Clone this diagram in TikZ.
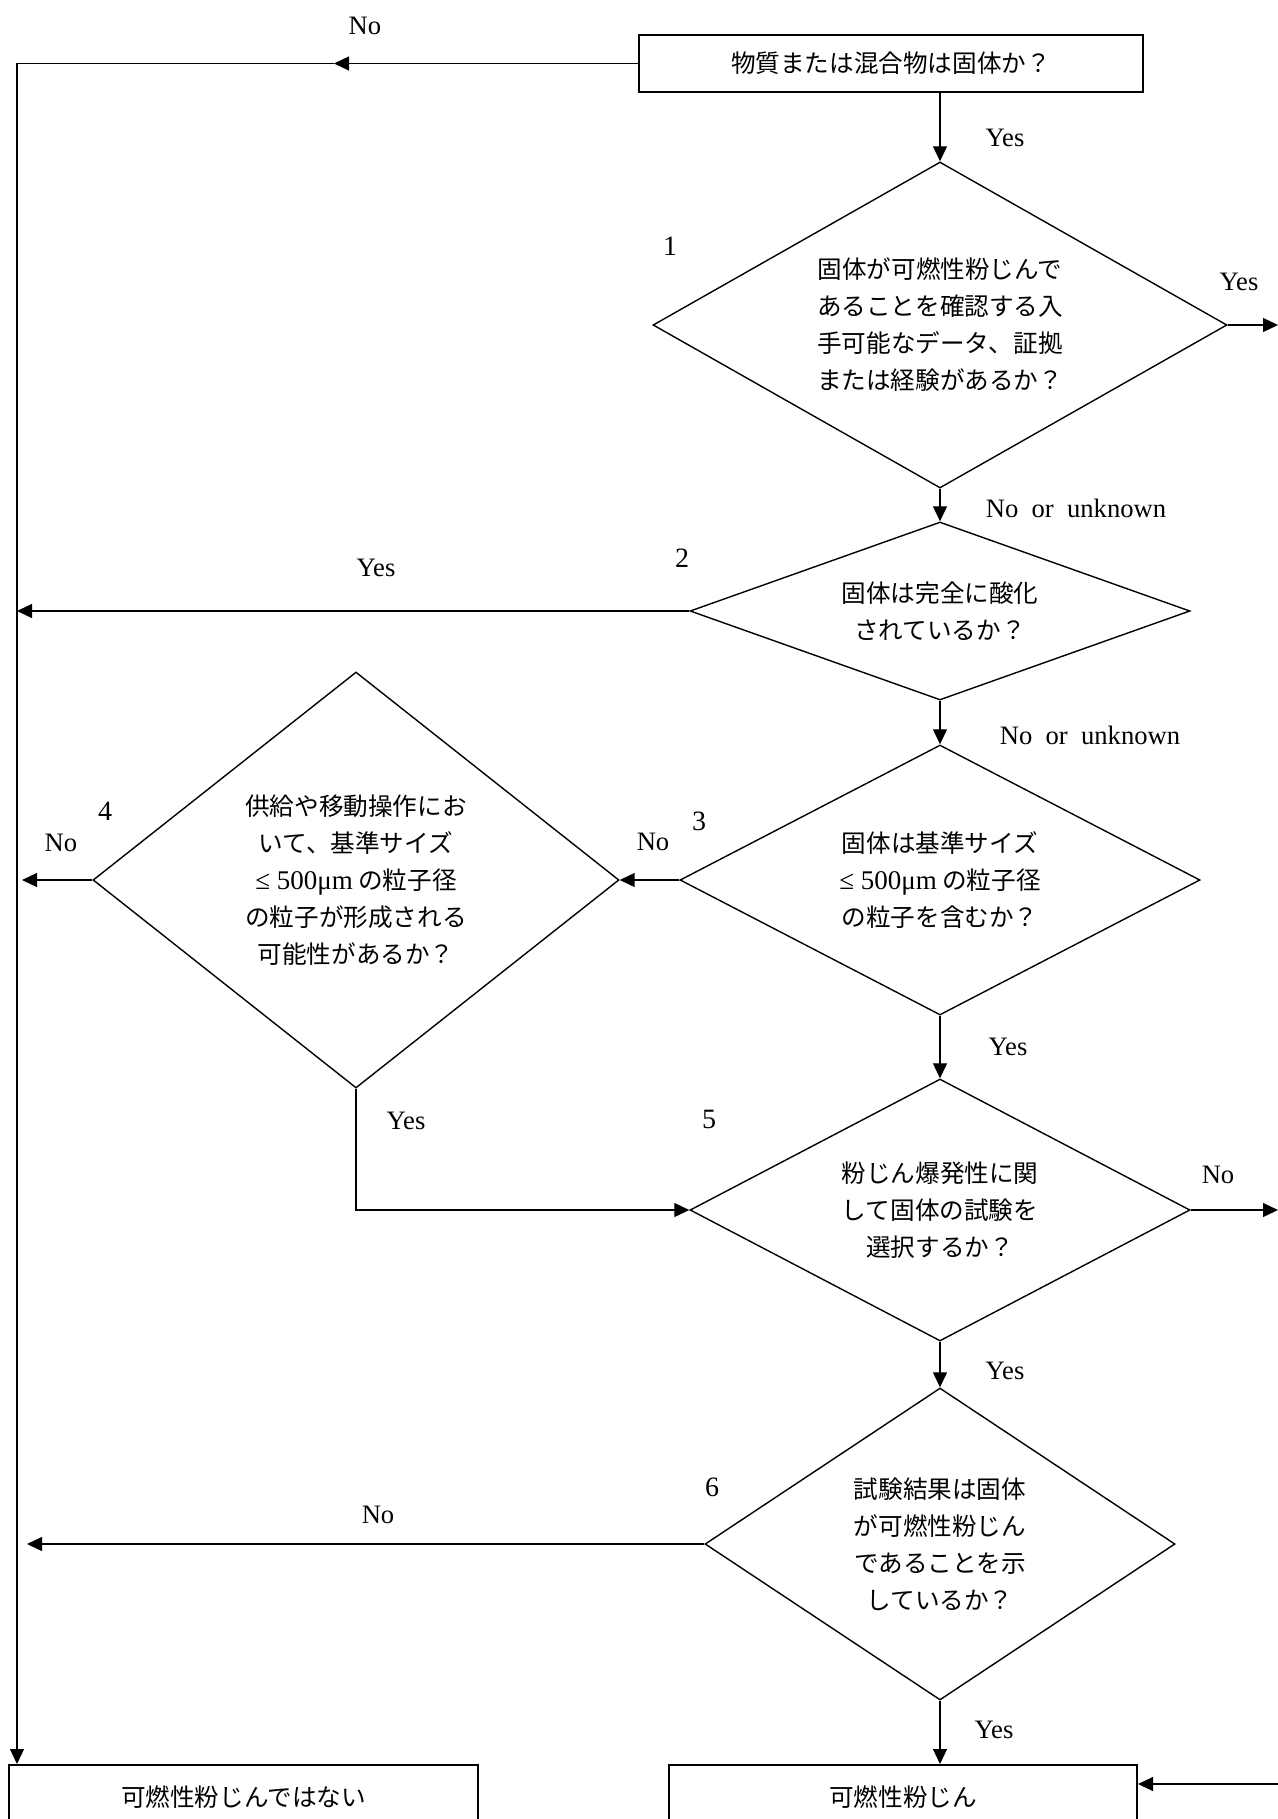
\documentclass[tikz,border=0pt]{standalone}
\usepackage{fontspec}
\setmainfont{Liberation Serif}
\newfontfamily\jp{Noto Sans CJK JP}
\usepackage{tikz}
\usetikzlibrary{arrows.meta,shapes.geometric}
\newcommand{\lsize}{\rmfamily\fontsize{13.5}{18.5}\selectfont ≤\ 500μm}
\tikzset{
  jt/.style={font=\jp\fontsize{12.3}{18.5}\selectfont, align=center},
  qbox/.style={jt, draw, line width=1pt, inner sep=0pt},
  qd/.style={jt, draw, diamond, line width=0.7pt, inner sep=0pt},
  lbl/.style={font=\fontsize{13.3}{16}\selectfont, inner sep=0pt},
  num/.style={font=\fontsize{14}{16}\selectfont, inner sep=0pt},
  ar/.style={-{Triangle[length=7.5pt,width=7pt]}, line width=0.6pt},
}

\begin{document}
\begin{tikzpicture}[x=0.5pt, y=-0.5pt]
  \useasboundingbox (0,0) rectangle (1278,1819);
  \clip (0,0) rectangle (1278,1819);

  \node[qbox, minimum width=252pt, minimum height=28.5pt] (start) at (891,63.5) {物質または混合物は固体か？};
  \node[qd, minimum width=287pt, minimum height=163pt, aspect=1.76] (d1) at (940,325)
    {固体が可燃性粉じんで\\あることを確認する入\\手可能なデータ、証拠\\または経験があるか？};
  \node[qd, minimum width=250pt, minimum height=89pt, aspect=2.81] (d2) at (940,611)
    {固体は完全に酸化\\されているか？};
  \node[qd, minimum width=260pt, minimum height=135pt, aspect=1.93] (d3) at (940,880)
    {固体は基準サイズ\\{\lsize} の粒子径\\の粒子を含むか？};
  \node[qd, minimum width=263pt, minimum height=208pt, aspect=1.26] (d4) at (356,880)
    {供給や移動操作にお\\いて、基準サイズ\\{\lsize} の粒子径\\の粒子が形成される\\可能性があるか？};
  \node[qd, minimum width=250pt, minimum height=131pt, aspect=1.91] (d5) at (940,1210)
    {粉じん爆発性に関\\して固体の試験を\\選択するか？};
  \node[qd, minimum width=235pt, minimum height=156pt, aspect=1.51] (d6) at (940,1544)
    {試験結果は固体\\が可燃性粉じん\\であることを示\\しているか？};
  \node[qbox, minimum width=234.5pt, minimum height=32pt] (notcd) at (243.5,1797) {可燃性粉じんではない};
  \node[qbox, minimum width=234pt, minimum height=32pt] (iscd) at (903,1797) {可燃性粉じん};

  \coordinate (nomid) at (334,63.5);
  \coordinate (ltop) at (17,63.5);
  \coordinate (r1) at (1278,325);
  \coordinate (l2) at (17,611);
  \coordinate (l4) at (22,880);
  \coordinate (r5) at (1278,1210);
  \coordinate (l6) at (27,1544);
  \coordinate (r7) at (1278,1784);

  \draw[ar] (start.west) -- (nomid);
  \draw[ar] (nomid) -- (ltop) -- (ltop |- notcd.north);
  \draw[ar] (start.south -| d1.north) -- (d1.north);
  \draw[ar] (d1.east) -- (r1);
  \draw[ar] (d1.south) -- (d2.north);
  \draw[ar] (d2.west) -- (l2);
  \draw[ar] (d2.south) -- (d3.north);
  \draw[ar] (d3.west) -- (d4.east);
  \draw[ar] (d4.west) -- (l4);
  \draw[ar] (d3.south) -- (d5.north);
  \draw[ar] (d4.south) |- (d5.west);
  \draw[ar] (d5.east) -- (r5);
  \draw[ar] (d5.south) -- (d6.north);
  \draw[ar] (d6.west) -- (l6);
  \draw[ar] (d6.south) -- (d6.south |- iscd.north);
  \draw[ar] (r7) -- (r7 -| iscd.east);

  \node[lbl] (n0) at (365,26) {No};
  \node[lbl] (y0) at (1005,138) {Yes};
  \node[num] (k1) at (670,246) {1};
  \node[lbl] (y1) at (1239,282) {Yes};
  \node[lbl] (u1) at (1076,508) {No\ \ or\ \ unknown};
  \node[num] (k2) at (682,558) {2};
  \node[lbl] (y2) at (376,568) {Yes};
  \node[lbl] (u2) at (1090,735) {No\ \ or\ \ unknown};
  \node[num] (k3) at (699,821) {3};
  \node[lbl] (n3) at (653,842) {No};
  \node[num] (k4) at (105,811) {4};
  \node[lbl] (n4) at (61,843) {No};
  \node[lbl] (y3) at (1008,1047) {Yes};
  \node[num] (k5) at (709,1119) {5};
  \node[lbl] (y4) at (406,1121) {Yes};
  \node[lbl] (n5) at (1218,1175) {No};
  \node[lbl] (y5) at (1005,1371) {Yes};
  \node[num] (k6) at (712,1487) {6};
  \node[lbl] (n6) at (378,1515) {No};
  \node[lbl] (y6) at (994,1730) {Yes};
\end{tikzpicture}
\end{document}
